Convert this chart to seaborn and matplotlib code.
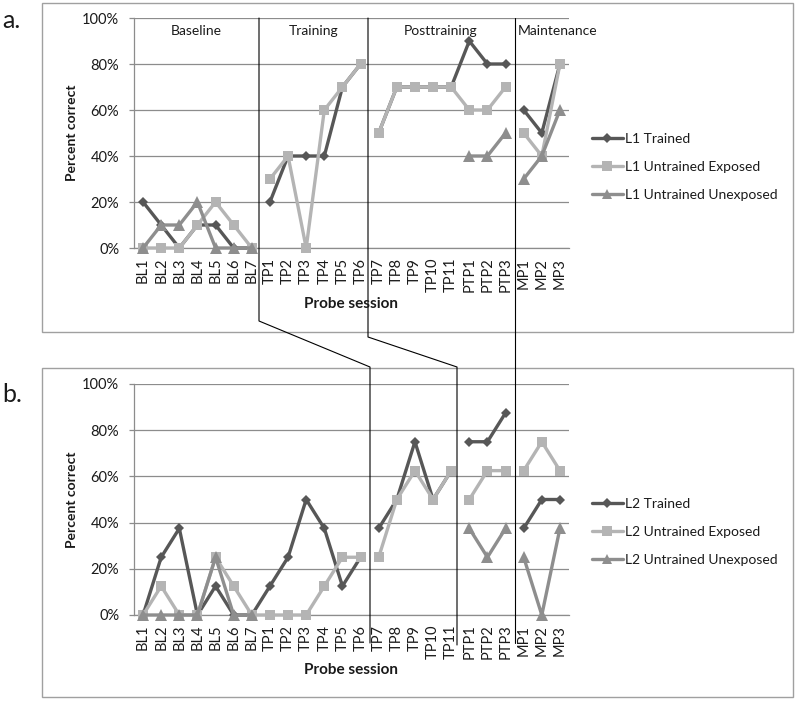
import numpy as np
import pandas as pd
import matplotlib
matplotlib.use("Agg")
import matplotlib.pyplot as plt
from matplotlib.lines import Line2D
from matplotlib.patches import Rectangle
from matplotlib.ticker import MultipleLocator, PercentFormatter
import seaborn as sns

# probe sessions (x categories)
sessions = ["BL1", "BL2", "BL3", "BL4", "BL5", "BL6", "BL7",
            "TP1", "TP2", "TP3", "TP4", "TP5", "TP6",
            "TP7", "TP8", "TP9", "TP10", "TP11",
            "PTP1", "PTP2", "PTP3",
            "MP1", "MP2", "MP3"]

# line segments (lines are broken between these groups)
seg_a = ["BL"] * 7 + ["TR"] * 6 + ["PT"] * 8 + ["MP"] * 3
seg_b = ["BT"] * 13 + ["TP"] * 5 + ["PT"] * 3 + ["MP"] * 3

nan = np.nan
# panel a: L1
l1_trained = [0.20, 0.10, 0.00, 0.10, 0.10, 0.00, 0.00,
              0.20, 0.40, 0.40, 0.40, 0.70, 0.80,
              0.50, 0.70, 0.70, 0.70, 0.70,
              0.90, 0.80, 0.80,
              0.60, 0.50, 0.80]
l1_exposed = [0.00, 0.00, 0.00, 0.10, 0.20, 0.10, 0.00,
              0.30, 0.40, 0.00, 0.60, 0.70, 0.80,
              0.50, 0.70, 0.70, 0.70, 0.70,
              0.60, 0.60, 0.70,
              0.50, 0.40, 0.80]
l1_unexposed = [0.00, 0.10, 0.10, 0.20, 0.00, 0.00, 0.00,
                nan, nan, nan, nan, nan, nan,
                nan, nan, nan, nan, nan,
                0.40, 0.40, 0.50,
                0.30, 0.40, 0.60]

# panel b: L2
l2_trained = [0.000, 0.250, 0.375, 0.000, 0.125, 0.000, 0.000,
              0.125, 0.250, 0.500, 0.375, 0.125, 0.250,
              0.375, 0.500, 0.750, 0.500, 0.625,
              0.750, 0.750, 0.875,
              0.375, 0.500, 0.500]
l2_exposed = [0.000, 0.125, 0.000, 0.000, 0.250, 0.125, 0.000,
              0.000, 0.000, 0.000, 0.125, 0.250, 0.250,
              0.250, 0.500, 0.625, 0.500, 0.625,
              0.500, 0.625, 0.625,
              0.625, 0.750, 0.625]
l2_unexposed = [0.000, 0.000, 0.000, 0.000, 0.250, 0.000, 0.000,
                nan, nan, nan, nan, nan, nan,
                nan, nan, nan, nan, nan,
                0.375, 0.250, 0.375,
                0.250, 0.000, 0.375]

greys = ["#575757", "#b4b4b4", "#8e8e8e"]
marks = ["D", "s", "^"]
msize = {"D": 5.6, "s": 7.8, "^": 8.6}

sns.set_theme(style="white")
plt.rcParams["font.family"] = ["Lato", "DejaVu Sans"]
plt.rcParams["text.color"] = "#1a1a1a"

W, H = 798, 701
fig = plt.figure(figsize=(W / 100, H / 100), dpi=100)


def px_axes(left, top, right, bottom):
    return fig.add_axes([left / W, 1 - bottom / H, (right - left) / W, (bottom - top) / H])


def long_df(names, series, segs):
    rows = []
    for name, vals in zip(names, series):
        for i, v in enumerate(vals):
            if not np.isnan(v):
                rows.append({"pos": i, "val": v, "series": name, "seg": segs[i]})
    return pd.DataFrame(rows)


def panel(ax, names, series, segs, leg_top):
    df = long_df(names, series, segs)
    sns.lineplot(data=df, x="pos", y="val", hue="series", style="series",
                 units="seg", estimator=None, ax=ax,
                 palette=dict(zip(names, greys)), markers=dict(zip(names, marks)),
                 dashes=False, lw=2.4, markersize=8, markeredgewidth=0, clip_on=False)
    # later series sit on top of earlier ones
    for ln in ax.lines:
        m = ln.get_marker()
        if m in marks:
            ln.set_markersize(msize[m])
            ln.set_zorder(3 + marks.index(m))

    ax.set_xlim(-0.5, 23.5)
    ax.set_ylim(0, 1)
    ax.yaxis.set_major_locator(MultipleLocator(0.2))
    ax.yaxis.set_major_formatter(PercentFormatter(1.0, decimals=0))
    ax.grid(axis="y", color="#8c8c8c", lw=0.9)
    ax.set_axisbelow(True)
    for s in ["top", "right"]:
        ax.spines[s].set_visible(False)
    for s in ["left", "bottom"]:
        ax.spines[s].set_color("#8c8c8c")
        ax.spines[s].set_linewidth(0.9)
    ax.set_xticks(range(len(sessions)), sessions, rotation=90)
    ax.set_xticks(np.arange(-0.5, len(sessions), 1), minor=True)
    ax.tick_params(axis="x", which="major", length=0, pad=7, labelsize=10.5, labelcolor="#1a1a1a")
    ax.tick_params(axis="x", which="minor", length=3.6, color="#8c8c8c", width=0.9, direction="out")
    ax.tick_params(axis="y", length=3.6, color="#8c8c8c", width=0.9, direction="out",
                   pad=7, labelsize=10.5, labelcolor="#1a1a1a", left=True)
    ax.set_xlabel("")
    ax.set_ylabel("")

    sns.move_legend(ax, "upper left", bbox_to_anchor=(592 / W, 1 - (leg_top - 5) / H),
                    bbox_transform=fig.transFigure, frameon=False, title=None,
                    fontsize=10, labelspacing=1.15, handlelength=2.2, handletextpad=0.15,
                    borderaxespad=0, borderpad=0)
    leg = ax.get_legend()
    for h in leg.legend_handles:
        h.set_linewidth(2.4)
        h.set_markersize(msize.get(h.get_marker(), 8) * 0.9)
        h.set_markeredgewidth(0)


axA = px_axes(134, 18, 569, 248)
axB = px_axes(134, 384, 569, 615)

panel(axA, ["L1 Trained", "L1 Untrained Exposed", "L1 Untrained Unexposed"],
      [l1_trained, l1_exposed, l1_unexposed], seg_a, 138)
panel(axB, ["L2 Trained", "L2 Untrained Exposed", "L2 Untrained Unexposed"],
      [l2_trained, l2_exposed, l2_unexposed], seg_b, 503)


def fig_line(pts, **kw):
    xs = [p[0] / W for p in pts]
    ys = [1 - p[1] / H for p in pts]
    fig.add_artist(Line2D(xs, ys, transform=fig.transFigure, **kw))


# outer boxes
for top, bottom in [(3, 332), (368, 697)]:
    fig.add_artist(Rectangle((42 / W, 1 - bottom / H), (793 - 42) / W, (bottom - top) / H,
                             transform=fig.transFigure, fill=False,
                             edgecolor="#a0a0a0", lw=1.0))

# phase dividers linking the two panels
fig_line([(259, 18), (259, 321), (370, 367), (370, 643)], color="black", lw=0.8)
fig_line([(368, 18), (368, 337), (457, 367), (457, 645)], color="black", lw=0.8)
fig_line([(515, 18), (515, 643)], color="black", lw=0.8)

# phase labels
for x, txt in [(196, "Baseline"), (314, "Training"), (441, "Posttraining"), (558, "Maintenance")]:
    fig.text(x / W, 1 - 31 / H, txt, ha="center", va="center", fontsize=10)

# axis titles
for yc, yx in [(133, 304), (500, 670)]:
    fig.text(72 / W, 1 - yc / H, "Percent correct", rotation=90, ha="center", va="center",
             fontsize=10, fontweight="bold")
    fig.text(351 / W, 1 - yx / H, "Probe session", ha="center", va="center",
             fontsize=11, fontweight="bold")

fig.text(2 / W, 1 - 28 / H, "a.", ha="left", va="baseline", fontsize=18)
fig.text(2 / W, 1 - 402 / H, "b.", ha="left", va="baseline", fontsize=18)

fig.savefig("out.png", dpi=100)
